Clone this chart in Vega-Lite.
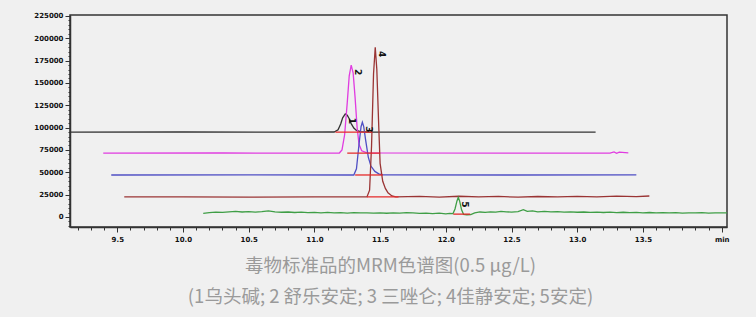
{
  "$schema": "https://vega.github.io/schema/vega-lite/v6.json",
  "autosize": "none",
  "width": 657,
  "height": 212,
  "padding": {"left": 70, "top": 15, "right": 29, "bottom": 90},
  "background": "#f0f0f0",
  "config": {
    "view": {"stroke": "#333333", "strokeWidth": 1.5},
    "axis": {
      "grid": false,
      "domainColor": "#333333",
      "domainWidth": 1.5,
      "tickColor": "#333333",
      "labelFont": "DejaVu Sans",
      "labelFontWeight": "bold",
      "labelFontSize": 7,
      "labelColor": "#111111"
    }
  },
  "datasets": {
    "traces": [
      {"s": "1", "t": 9.10, "v": 95000},
      {"s": "1", "t": 10.00, "v": 95100},
      {"s": "1", "t": 10.80, "v": 95000},
      {"s": "1", "t": 11.15, "v": 95100},
      {"s": "1", "t": 11.18, "v": 97500},
      {"s": "1", "t": 11.20, "v": 104000},
      {"s": "1", "t": 11.215, "v": 111000},
      {"s": "1", "t": 11.235, "v": 115300},
      {"s": "1", "t": 11.25, "v": 114000},
      {"s": "1", "t": 11.265, "v": 110000},
      {"s": "1", "t": 11.28, "v": 104500},
      {"s": "1", "t": 11.30, "v": 99500},
      {"s": "1", "t": 11.32, "v": 96800},
      {"s": "1", "t": 11.35, "v": 95400},
      {"s": "1", "t": 11.40, "v": 95100},
      {"s": "1", "t": 12.30, "v": 95000},
      {"s": "1", "t": 13.14, "v": 95000},

      {"s": "2", "t": 9.393, "v": 71500},
      {"s": "2", "t": 10.30, "v": 71600},
      {"s": "2", "t": 11.00, "v": 71500},
      {"s": "2", "t": 11.19, "v": 71600},
      {"s": "2", "t": 11.21, "v": 75000},
      {"s": "2", "t": 11.23, "v": 92000},
      {"s": "2", "t": 11.25, "v": 128000},
      {"s": "2", "t": 11.265, "v": 158000},
      {"s": "2", "t": 11.28, "v": 170000},
      {"s": "2", "t": 11.295, "v": 161000},
      {"s": "2", "t": 11.31, "v": 133000},
      {"s": "2", "t": 11.325, "v": 100000},
      {"s": "2", "t": 11.34, "v": 81000},
      {"s": "2", "t": 11.36, "v": 74000},
      {"s": "2", "t": 11.40, "v": 71700},
      {"s": "2", "t": 12.50, "v": 71500},
      {"s": "2", "t": 13.25, "v": 71500},
      {"s": "2", "t": 13.28, "v": 72800},
      {"s": "2", "t": 13.30, "v": 71200},
      {"s": "2", "t": 13.32, "v": 72500},
      {"s": "2", "t": 13.389, "v": 71800},

      {"s": "3", "t": 9.454, "v": 47000},
      {"s": "3", "t": 10.50, "v": 47100},
      {"s": "3", "t": 11.30, "v": 47000},
      {"s": "3", "t": 11.32, "v": 54000},
      {"s": "3", "t": 11.34, "v": 82000},
      {"s": "3", "t": 11.355, "v": 101000},
      {"s": "3", "t": 11.365, "v": 106000},
      {"s": "3", "t": 11.375, "v": 101500},
      {"s": "3", "t": 11.39, "v": 86000},
      {"s": "3", "t": 11.41, "v": 67000},
      {"s": "3", "t": 11.43, "v": 57000},
      {"s": "3", "t": 11.46, "v": 51000},
      {"s": "3", "t": 11.49, "v": 48300},
      {"s": "3", "t": 11.52, "v": 47200},
      {"s": "3", "t": 12.50, "v": 47000},
      {"s": "3", "t": 13.45, "v": 47100},

      {"s": "4", "t": 9.553, "v": 22400},
      {"s": "4", "t": 10.00, "v": 22600},
      {"s": "4", "t": 10.50, "v": 22300},
      {"s": "4", "t": 11.00, "v": 22500},
      {"s": "4", "t": 11.40, "v": 22400},
      {"s": "4", "t": 11.42, "v": 30000},
      {"s": "4", "t": 11.435, "v": 80000},
      {"s": "4", "t": 11.45, "v": 160000},
      {"s": "4", "t": 11.463, "v": 190000},
      {"s": "4", "t": 11.475, "v": 165000},
      {"s": "4", "t": 11.49, "v": 100000},
      {"s": "4", "t": 11.50, "v": 60000},
      {"s": "4", "t": 11.52, "v": 40000},
      {"s": "4", "t": 11.54, "v": 32000},
      {"s": "4", "t": 11.56, "v": 27000},
      {"s": "4", "t": 11.59, "v": 23500},
      {"s": "4", "t": 11.62, "v": 22500},
      {"s": "4", "t": 11.80, "v": 23000},
      {"s": "4", "t": 11.95, "v": 22300},
      {"s": "4", "t": 12.10, "v": 23200},
      {"s": "4", "t": 12.25, "v": 22600},
      {"s": "4", "t": 12.40, "v": 23000},
      {"s": "4", "t": 12.55, "v": 22200},
      {"s": "4", "t": 12.70, "v": 22900},
      {"s": "4", "t": 12.85, "v": 22400},
      {"s": "4", "t": 13.00, "v": 23100},
      {"s": "4", "t": 13.15, "v": 22500},
      {"s": "4", "t": 13.30, "v": 23300},
      {"s": "4", "t": 13.45, "v": 22800},
      {"s": "4", "t": 13.549, "v": 23500},

      {"s": "5", "t": 10.154, "v": 4000},
      {"s": "5", "t": 10.20, "v": 4800},
      {"s": "5", "t": 10.25, "v": 5500},
      {"s": "5", "t": 10.30, "v": 5200},
      {"s": "5", "t": 10.35, "v": 5800},
      {"s": "5", "t": 10.40, "v": 6200},
      {"s": "5", "t": 10.45, "v": 5600},
      {"s": "5", "t": 10.50, "v": 6000},
      {"s": "5", "t": 10.55, "v": 5400},
      {"s": "5", "t": 10.60, "v": 5900},
      {"s": "5", "t": 10.65, "v": 6800},
      {"s": "5", "t": 10.70, "v": 5700},
      {"s": "5", "t": 10.75, "v": 5300},
      {"s": "5", "t": 10.80, "v": 5600},
      {"s": "5", "t": 10.85, "v": 5000},
      {"s": "5", "t": 10.90, "v": 5400},
      {"s": "5", "t": 10.95, "v": 4900},
      {"s": "5", "t": 11.00, "v": 5200},
      {"s": "5", "t": 11.05, "v": 4700},
      {"s": "5", "t": 11.10, "v": 5100},
      {"s": "5", "t": 11.15, "v": 4600},
      {"s": "5", "t": 11.20, "v": 4900},
      {"s": "5", "t": 11.25, "v": 4400},
      {"s": "5", "t": 11.30, "v": 4800},
      {"s": "5", "t": 11.35, "v": 4500},
      {"s": "5", "t": 11.40, "v": 4700},
      {"s": "5", "t": 11.45, "v": 4300},
      {"s": "5", "t": 11.50, "v": 4600},
      {"s": "5", "t": 11.55, "v": 4200},
      {"s": "5", "t": 11.60, "v": 4700},
      {"s": "5", "t": 11.65, "v": 4400},
      {"s": "5", "t": 11.70, "v": 4900},
      {"s": "5", "t": 11.75, "v": 4500},
      {"s": "5", "t": 11.80, "v": 4000},
      {"s": "5", "t": 11.85, "v": 4400},
      {"s": "5", "t": 11.90, "v": 3700},
      {"s": "5", "t": 11.95, "v": 4300},
      {"s": "5", "t": 12.00, "v": 3500},
      {"s": "5", "t": 12.03, "v": 4000},
      {"s": "5", "t": 12.055, "v": 3800},
      {"s": "5", "t": 12.07, "v": 9000},
      {"s": "5", "t": 12.085, "v": 18000},
      {"s": "5", "t": 12.095, "v": 22000},
      {"s": "5", "t": 12.105, "v": 18000},
      {"s": "5", "t": 12.12, "v": 8000},
      {"s": "5", "t": 12.135, "v": 3000},
      {"s": "5", "t": 12.16, "v": 2500},
      {"s": "5", "t": 12.19, "v": 2600},
      {"s": "5", "t": 12.22, "v": 4500},
      {"s": "5", "t": 12.26, "v": 5600},
      {"s": "5", "t": 12.30, "v": 5200},
      {"s": "5", "t": 12.34, "v": 5800},
      {"s": "5", "t": 12.38, "v": 5400},
      {"s": "5", "t": 12.42, "v": 6200},
      {"s": "5", "t": 12.46, "v": 5700},
      {"s": "5", "t": 12.50, "v": 5500},
      {"s": "5", "t": 12.55, "v": 6000},
      {"s": "5", "t": 12.59, "v": 8200},
      {"s": "5", "t": 12.62, "v": 6200},
      {"s": "5", "t": 12.66, "v": 6800},
      {"s": "5", "t": 12.70, "v": 5800},
      {"s": "5", "t": 12.75, "v": 6200},
      {"s": "5", "t": 12.80, "v": 5700},
      {"s": "5", "t": 12.85, "v": 5900},
      {"s": "5", "t": 12.90, "v": 5400},
      {"s": "5", "t": 12.95, "v": 5800},
      {"s": "5", "t": 13.00, "v": 5300},
      {"s": "5", "t": 13.05, "v": 5600},
      {"s": "5", "t": 13.10, "v": 5100},
      {"s": "5", "t": 13.15, "v": 5500},
      {"s": "5", "t": 13.20, "v": 5000},
      {"s": "5", "t": 13.25, "v": 5400},
      {"s": "5", "t": 13.30, "v": 4900},
      {"s": "5", "t": 13.35, "v": 5300},
      {"s": "5", "t": 13.40, "v": 4800},
      {"s": "5", "t": 13.45, "v": 5100},
      {"s": "5", "t": 13.50, "v": 4700},
      {"s": "5", "t": 13.55, "v": 5000},
      {"s": "5", "t": 13.60, "v": 4600},
      {"s": "5", "t": 13.65, "v": 4900},
      {"s": "5", "t": 13.70, "v": 4500},
      {"s": "5", "t": 13.75, "v": 4800},
      {"s": "5", "t": 13.80, "v": 4400},
      {"s": "5", "t": 13.85, "v": 4700},
      {"s": "5", "t": 13.90, "v": 4500},
      {"s": "5", "t": 13.95, "v": 4800},
      {"s": "5", "t": 14.00, "v": 4400},
      {"s": "5", "t": 14.05, "v": 4600},
      {"s": "5", "t": 14.10, "v": 4500},
      {"s": "5", "t": 14.20, "v": 4500}
    ],
    "integration": [
      {"s": "1", "t1": 11.16, "t2": 11.44, "v": 95000},
      {"s": "2", "t1": 11.25, "t2": 11.50, "v": 71500},
      {"s": "3", "t1": 11.31, "t2": 11.52, "v": 47000},
      {"s": "4", "t1": 11.40, "t2": 11.64, "v": 22400},
      {"s": "5", "t1": 12.057, "t2": 12.186, "v": 3200}
    ],
    "peaks": [
      {"s": "1", "t": 11.235, "v": 115300},
      {"s": "2", "t": 11.28, "v": 170000},
      {"s": "3", "t": 11.365, "v": 106000},
      {"s": "4", "t": 11.463, "v": 190000},
      {"s": "5", "t": 12.095, "v": 22000}
    ]
  },
  "layer": [
    {
      "data": {"name": "traces"},
      "mark": {"type": "line", "strokeWidth": 1.3, "clip": true},
      "encoding": {
        "x": {
          "field": "t", "type": "quantitative",
          "scale": {"domain": [9.14, 14.14], "nice": false, "zero": false},
          "axis": {
            "orient": "bottom",
            "values": [9.5, 10, 10.5, 11, 11.5, 12, 12.5, 13, 13.5, 14.1],
            "labelExpr": "datum.value > 14.05 ? 'min' : format(datum.value, '.1f')",
            "tickSize": 5,
            "labelPadding": 3,
            "title": ["毒物标准品的MRM色谱图(0.5 μg/L)", "(1乌头碱; 2 舒乐安定; 3 三唑仑; 4佳静安定; 5安定)"],
            "titleFont": "Noto Sans CJK SC",
            "titleFontSize": 18.5,
            "titleFontWeight": "normal",
            "titleColor": "#9a9a9a",
            "titleLineHeight": 31,
            "titleAnchor": "start",
            "titleAlign": "center",
            "titleBaseline": "alphabetic",
            "titleX": 320,
            "titleY": 44
          }
        },
        "y": {
          "field": "v", "type": "quantitative",
          "scale": {"domain": [-11200, 226000], "nice": false, "zero": false},
          "axis": {
            "orient": "left",
            "values": [0, 25000, 50000, 75000, 100000, 125000, 150000, 175000, 200000, 225000],
            "format": "d",
            "tickSize": 5,
            "labelPadding": 2,
            "title": null
          }
        },
        "color": {
          "field": "s", "type": "nominal",
          "scale": {"domain": ["1", "2", "3", "4", "5"], "range": ["#333333", "#e03ce0", "#4f4fc4", "#9a3434", "#3f9e46"]},
          "legend": null
        },
        "order": {"field": "t", "type": "quantitative"}
      }
    },
    {
      "data": {"name": "integration"},
      "mark": {"type": "rule", "color": "#e42a2a", "strokeWidth": 1.3},
      "encoding": {
        "x": {"field": "t1", "type": "quantitative", "scale": {"domain": [9.14, 14.14], "nice": false, "zero": false}, "axis": null},
        "x2": {"field": "t2"},
        "y": {"field": "v", "type": "quantitative", "scale": {"domain": [-11200, 226000], "nice": false, "zero": false}, "axis": null}
      }
    },
    {
      "data": {"name": "peaks"},
      "mark": {"type": "text", "angle": 90, "dx": 7, "dy": -7, "font": "DejaVu Sans", "fontWeight": "bold", "fontSize": 9, "color": "#111111"},
      "encoding": {
        "x": {"field": "t", "type": "quantitative", "scale": {"domain": [9.14, 14.14], "nice": false, "zero": false}, "axis": null},
        "y": {"field": "v", "type": "quantitative", "scale": {"domain": [-11200, 226000], "nice": false, "zero": false}, "axis": null},
        "text": {"field": "s"}
      }
    },
    {
      "data": {"name": "peaks"},
      "mark": {"type": "point", "opacity": 0},
      "encoding": {
        "x": {
          "field": "t", "type": "quantitative",
          "scale": {"domain": [9.14, 14.14], "nice": false, "zero": false},
          "axis": {
            "orient": "bottom", "labels": false, "domain": false, "tickSize": 3, "title": null,
            "values": [9.2, 9.3, 9.4, 9.6, 9.7, 9.8, 9.9, 10.1, 10.2, 10.3, 10.4, 10.6, 10.7, 10.8, 10.9, 11.1, 11.2, 11.3, 11.4, 11.6, 11.7, 11.8, 11.9, 12.1, 12.2, 12.3, 12.4, 12.6, 12.7, 12.8, 12.9, 13.1, 13.2, 13.3, 13.4, 13.6, 13.7, 13.8, 13.9, 14.0]
          }
        },
        "y": {
          "field": "v", "type": "quantitative",
          "scale": {"domain": [-11200, 226000], "nice": false, "zero": false},
          "axis": {
            "orient": "left", "labels": false, "domain": false, "tickSize": 2, "title": null,
            "values": [-10000, -5000, 5000, 10000, 15000, 20000, 30000, 35000, 40000, 45000, 55000, 60000, 65000, 70000, 80000, 85000, 90000, 95000, 105000, 110000, 115000, 120000, 130000, 135000, 140000, 145000, 155000, 160000, 165000, 170000, 180000, 185000, 190000, 195000, 205000, 210000, 215000, 220000]
          }
        }
      }
    }
  ],
  "resolve": {"axis": {"x": "independent", "y": "independent"}}
}
